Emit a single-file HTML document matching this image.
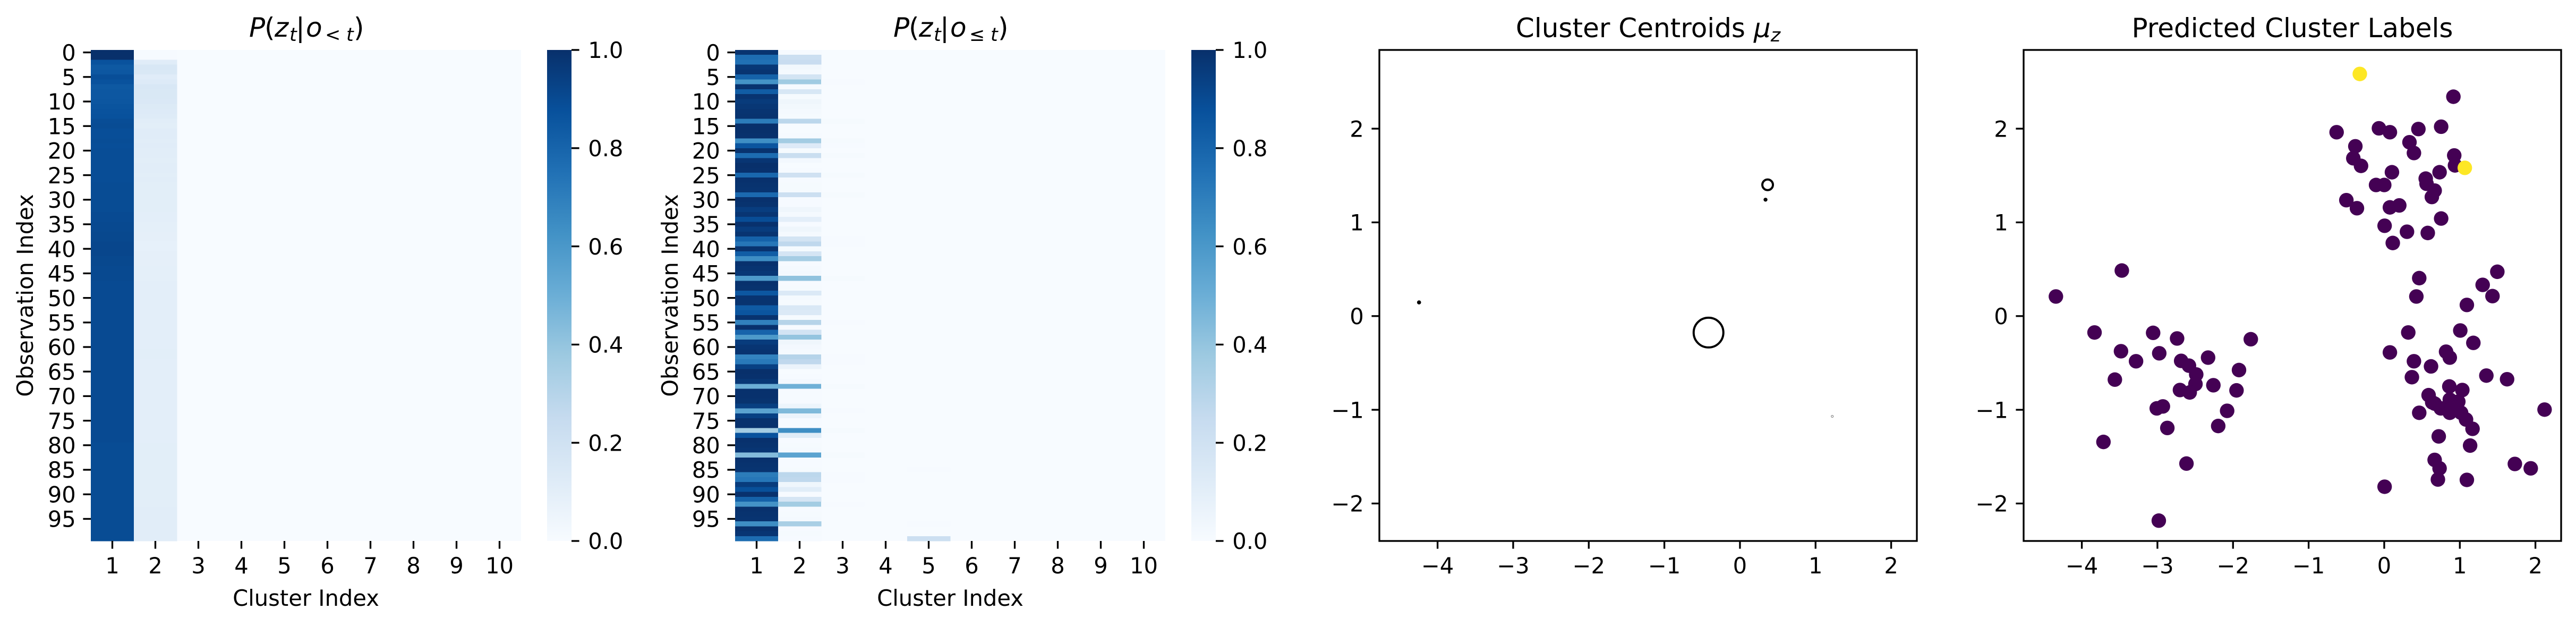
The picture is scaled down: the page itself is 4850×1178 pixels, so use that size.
<!DOCTYPE html>
<html lang="en">
<head>
<meta charset="utf-8">
<title>Cluster posterior heatmaps and scatter plots</title>
<style>
html,body{margin:0;padding:0;background:#fff;}
svg{display:block;}
text{font-family:"DejaVu Sans","Liberation Sans",sans-serif;fill:#000;}
.t{font-size:41.67px;}
.h{font-size:50px;}
.s{font-size:35px;}
.i{font-style:italic;}
</style>
</head>
<body>
<svg id="fig" xmlns="http://www.w3.org/2000/svg" width="4850" height="1178" viewBox="0 0 4850 1178">
  <defs>
    <linearGradient id="blues" x1="0" y1="1" x2="0" y2="0">
      <stop offset="0" stop-color="#f7fbff"/><stop offset="0.125" stop-color="#deebf7"/><stop offset="0.25" stop-color="#c6dbef"/>
      <stop offset="0.375" stop-color="#9ecae1"/><stop offset="0.5" stop-color="#6baed6"/><stop offset="0.625" stop-color="#4292c6"/>
      <stop offset="0.75" stop-color="#2171b5"/><stop offset="0.875" stop-color="#08519c"/><stop offset="1" stop-color="#08306b"/>
    </linearGradient>
  </defs>
  <rect x="0" y="0" width="4850" height="1178" fill="#fff"/>

  <g>
    <text class="h i" x="469" y="69">P</text><text class="h" x="498" y="69">(</text><text class="h i" x="517" y="69">z</text><text class="s i" x="545" y="77">t</text><text class="h" x="557" y="69">|</text><text class="h i" x="576" y="69">o</text><text class="s" x="612" y="77">&lt;</text><text class="s i" x="652" y="77">t</text><text class="h" x="666" y="69">)</text>
  </g>
  <g>
    <text class="h i" x="1682" y="69">P</text><text class="h" x="1711" y="69">(</text><text class="h i" x="1730" y="69">z</text><text class="s i" x="1758" y="77">t</text><text class="h" x="1770" y="69">|</text><text class="h i" x="1789" y="69">o</text><text class="s" x="1825" y="77">≤</text><text class="s i" x="1865" y="77">t</text><text class="h" x="1879" y="69">)</text>
  </g>
  <text class="h" x="3103" y="70" text-anchor="middle">Cluster Centroids <tspan class="i">μ</tspan><tspan class="s i" dy="8">z</tspan></text>
  <text class="h" x="4316" y="70" text-anchor="middle">Predicted Cluster Labels</text>

  <g id="root"></g>
</svg>

<script>
// ---------- Heatmap data: P(z_t | o_<t) ----------
const priorCluster1 = [1,1,.87,.845,.85,.885,.87,.845,.85,.85,.855,.865,.87,.875,.89,.895,.885,.885,.89,.885,
.89,.89,.89,.89,.89,.89,.89,.895,.895,.895,.895,.895,.895,.9,.9,.905,.905,.91,.91,.915,
.915,.915,.91,.91,.905,.905,.905,.9,.9,.9,.9,.9,.9,.9,.9,.9,.9,.9,.9,.9,
.9,.9,.9,.9,.9,.9,.9,.9,.9,.9,.9,.9,.9,.9,.9,.9,.9,.9,.9,.9,
.895,.895,.895,.895,.895,.895,.895,.895,.895,.895,.895,.895,.895,.895,.895,.895,.895,.895,.895,.895];
const priorCluster2 = [.005,.005,.115,.155,.15,.115,.13,.155,.15,.15,.145,.135,.13,.125,.11,.105,.115,.115,.11,.115,
.11,.11,.105,.11,.11,.105,.11,.105,.105,.105,.105,.105,.105,.1,.1,.095,.095,.09,.09,.085,
.085,.09,.09,.09,.095,.095,.095,.1,.1,.1,.1,.1,.1,.1,.1,.1,.1,.1,.1,.1,
.1,.105,.105,.1,.1,.1,.1,.1,.1,.1,.1,.1,.1,.1,.1,.1,.1,.1,.1,.1,
.105,.105,.105,.105,.105,.105,.105,.105,.105,.105,.105,.105,.105,.11,.11,.11,.11,.11,.11,.11];

// ---------- Heatmap data: P(z_t | o_<=t) ----------
const posteriorCluster1 = [.99,.77,.75,.97,.985,.81,.62,.99,.83,.985,.96,.975,.985,.99,.71,1,1,.995,.635,.86,
.99,.77,.98,1,.995,.79,.995,.99,.985,.78,.995,.99,.95,.98,.89,.995,.955,.985,.81,.73,
.99,.83,.64,.995,.985,.975,.59,.995,.99,.85,.985,.99,.84,.86,.99,.69,.995,.8,.59,.955,
.98,.99,.68,.72,.94,1,.995,.975,.5,.995,.995,.99,.945,.55,.94,.995,.995,.355,.87,.995,
.99,.98,.44,.995,.99,.985,.71,.73,.955,.88,.995,.81,.62,.995,.99,.985,.64,.995,.98,.77];
const posteriorCluster2 = [.005,.22,.24,.03,.015,.18,.37,.01,.16,.01,.04,.025,.015,.01,.28,0,0,.005,.36,.13,
.01,.23,.02,0,.005,.2,.005,.01,.01,.22,.005,.005,.04,.015,.1,.005,.04,.015,.18,.27,
.01,.17,.35,.005,.015,.02,.41,.005,.01,.14,.015,.01,.15,.14,.01,.3,.005,.19,.4,.04,
.02,.01,.3,.27,.06,0,.005,.02,.49,.005,.005,.005,.05,.45,.06,.005,.005,.64,.12,.005,
.01,.015,.55,.005,.005,.01,.28,.27,.04,.11,.005,.17,.36,.005,.01,.015,.34,.005,.01,.005];
const posteriorFaintRows = [6,14,18,19,21,25,29,38,39,46,55,62,63,68,73,77,82,85,86,87,92,96,99];
const posteriorFaintCols = [3,3,3,3,3,3,3,3,3,3,3,3,3,3,3,3,3,5,3,3,3,5,5];
const posteriorFaintValues = [.006,.008,.008,.005,.008,.008,.008,.006,.006,.008,.006,.006,.006,.008,.006,.008,.008,.006,.006,.006,.006,.005,.22];

const clusterLabels = [1,2,3,4,5,6,7,8,9,10];
const rowLabels = [0,5,10,15,20,25,30,35,40,45,50,55,60,65,70,75,80,85,90,95];
const colorbarTicks = [0,.2,.4,.6,.8,1];
const colorbarLabels = ["0.0","0.2","0.4","0.6","0.8","1.0"];

// ---------- Centroids ----------
const centroidX = [-.416,.366,.338,-4.245,1.221];
const centroidY = [-.176,1.401,1.242,.146,-1.070];
const centroidWeight = [.87,.111,.0032,.0038,.0044];
const centroidFaint = [0,0,0,0,1];

// ---------- Scatter ----------
const scatterX = [.915,-.630,-.070,.075,.452,.753,-.382,.334,.393,.926,-.409,-.307,.936,.102,.732,.549,.560,-.108,0,.667,.630,-.501,-.361,.075,.199,.753,.005,.301,.576,.113,
.463,1.496,1.302,1.432,.425,1.093,.318,1.006,1.179,.075,.818,.867,.393,.619,.366,1.351,1.625,.861,1.033,.587,.635,.667,.748,.867,.980,.893,.867,1.017,.936,1.082,.463,2.121,1.168,.721,1.136,.667,.732,.710,1.093,1.728,1.938,.005,
-4.343,-3.471,-3.832,-3.057,-2.740,-1.765,-3.482,-2.976,-3.283,-2.686,-2.583,-2.330,-2.487,-3.563,-1.921,-2.497,-2.260,-2.702,-2.573,-1.954,-2.928,-3.009,-2.078,-2.869,-2.196,-3.714,-2.616,-2.982,
-.323,1.066];
const scatterY = [2.341,1.962,2.004,1.962,1.996,2.021,1.812,1.855,1.740,1.714,1.684,1.603,1.608,1.535,1.535,1.467,1.412,1.399,1.399,1.339,1.271,1.237,1.151,1.160,1.181,1.041,.964,.900,.887,.780,
.405,.473,.333,.213,.209,.119,-.175,-.154,-.286,-.388,-.380,-.443,-.482,-.537,-.652,-.635,-.674,-.751,-.789,-.844,-.921,-.934,-.985,-.891,-.913,-.955,-1.032,-1.032,-.977,-1.104,-1.032,-.998,-1.203,-1.284,-1.382,-1.535,-1.625,-1.744,-1.748,-1.578,-1.625,-1.821,
.209,.486,-.175,-.179,-.239,-.247,-.375,-.397,-.482,-.478,-.529,-.443,-.623,-.678,-.576,-.725,-.738,-.789,-.815,-.793,-.964,-.985,-1.011,-1.194,-1.173,-1.343,-1.574,-2.183,
2.584,1.582];
const scatterLabel = [0,0,0,0,0,0,0,0,0,0,0,0,0,0,0,0,0,0,0,0,0,0,0,0,0,0,0,0,0,0,
0,0,0,0,0,0,0,0,0,0,0,0,0,0,0,0,0,0,0,0,0,0,0,0,0,0,0,0,0,0,0,0,0,0,0,0,0,0,0,0,0,0,
0,0,0,0,0,0,0,0,0,0,0,0,0,0,0,0,0,0,0,0,0,0,0,0,0,0,0,0,
1,1];
const xTicksNumeric = [-4,-3,-2,-1,0,1,2];
const yTicksNumeric = [-2,-1,0,1,2];

// ---------- Layout ----------
const TOP = 94, BOTTOM = 1018, TICK = 14.6, TW = 3.33, PAD = 14.6, XLABEL_BASE = 1079;
const NS = "http://www.w3.org/2000/svg";
const root = document.getElementById("root");

function make(tag, attrs, parent) {
  const e = document.createElementNS(NS, tag);
  for (const k in attrs) e.setAttribute(k, attrs[k]);
  (parent || root).appendChild(e);
  return e;
}
const bluesStops = [[247,251,255],[222,235,247],[198,219,239],[158,202,225],[107,174,214],[66,146,198],[33,113,181],[8,81,156],[8,48,107]];
function blues(v) {
  const t = Math.max(0, Math.min(1, v)) * 8;
  const i = Math.min(7, Math.floor(t));
  const f = t - i;
  const c = bluesStops[i].map(function (a, j) { return Math.round(a + (bluesStops[i + 1][j] - a) * f); });
  return "rgb(" + c.join(",") + ")";
}
function tickLine(parent, x1, y1, x2, y2) {
  const l = make("line", { x1: x1, y1: y1, x2: x2, y2: y2, stroke: "#000", "stroke-width": TW }, parent);
  
  
}
function tickText(parent, str, x, y, anchor) {
  const t = make("text", { x: x, y: y, "text-anchor": anchor, class: "t" }, parent);
  t.textContent = str;
  
  
}
function minus(v) { return v < 0 ? "\u2212" + Math.abs(v) : String(v); }

function drawHeatmap(name, left, right, cbLeft, cbRight, ylabelX, col1, col2, faintR, faintC, faintV) {
  const g = make("g", {});
  
  
  const nCols = clusterLabels.length, nRows = col1.length;
  const cw = (right - left) / nCols, rh = (BOTTOM - TOP) / nRows;
  const xPos = function (c) { return left + c * cw; };
  const yPos = function (r) { return TOP + r * rh; };

  const bg = make("rect", { x: left, y: TOP, width: right - left, height: BOTTOM - TOP, fill: blues(0) }, g);
  
  

  function cell(r, c, v) {
    const rc = make("rect", { x: xPos(c), y: yPos(r), width: cw + 0.4, height: rh + 0.4, fill: blues(v), "shape-rendering": "crispEdges" }, g);
    
    
  }
  for (let r = 0; r < nRows; r++) {
    cell(r, 0, col1[r]);
    cell(r, 1, col2[r]);
  }
  for (let k = 0; k < faintR.length; k++) cell(faintR[k], faintC[k] - 1, faintV[k]);

  clusterLabels.forEach(function (lab, c) {
    const x = xPos(c + 0.5);
    tickLine(g, x, BOTTOM, x, BOTTOM + TICK);
    tickText(g, String(lab), x, XLABEL_BASE, "middle");
  });
  rowLabels.forEach(function (lab) {
    const y = yPos(lab + 0.5);
    tickLine(g, left, y, left - TICK, y);
    tickText(g, String(lab), left - TICK - PAD + 1, y + 15.2, "end");
  });

  const xl = make("text", { x: (left + right) / 2, y: 1140, "text-anchor": "middle", class: "t" }, g);
  xl.textContent = "Cluster Index";
  
  
  const yl = make("text", { x: 0, y: 0, "text-anchor": "middle", class: "t", transform: "translate(" + ylabelX + "," + (TOP + BOTTOM) / 2 + ") rotate(-90)" }, g);
  yl.textContent = "Observation Index";
  
  

  const cb = make("rect", { x: cbLeft, y: TOP, width: cbRight - cbLeft, height: BOTTOM - TOP, fill: "url(#blues)" }, g);
  
  
  colorbarTicks.forEach(function (v, i) {
    const y = BOTTOM - v * (BOTTOM - TOP);
    tickLine(g, cbRight, y, cbRight + TICK, y);
    tickText(g, colorbarLabels[i], cbRight + TICK + PAD + 2, y + 15.2, "start");
  });
}

const XMIN = -4.77, XMAX = 2.34, YMIN = -2.40, YMAX = 2.84;
function drawAxes(name, left, right, painter) {
  const g = make("g", {});
  
  
  const sx = function (v) { return left + (v - XMIN) / (XMAX - XMIN) * (right - left); };
  const sy = function (v) { return BOTTOM - (v - YMIN) / (YMAX - YMIN) * (BOTTOM - TOP); };
  painter(g, sx, sy);
  const frame = make("rect", { x: left, y: TOP, width: right - left, height: BOTTOM - TOP, fill: "none", stroke: "#000", "stroke-width": TW }, g);
  
  
  xTicksNumeric.forEach(function (v) {
    tickLine(g, sx(v), BOTTOM, sx(v), BOTTOM + TICK);
    tickText(g, minus(v), sx(v), XLABEL_BASE, "middle");
  });
  yTicksNumeric.forEach(function (v) {
    tickLine(g, left, sy(v), left - TICK, sy(v));
    tickText(g, minus(v), left - TICK - PAD, sy(v) + 15.2, "end");
  });
}

drawHeatmap("heatmap-prior", 171, 981, 1030, 1076, 62, priorCluster1, priorCluster2, [], [], []);
drawHeatmap("heatmap-posterior", 1384, 2194, 2243, 2289, 1276, posteriorCluster1, posteriorCluster2, posteriorFaintRows, posteriorFaintCols, posteriorFaintValues);

drawAxes("centroids-plot", 2597, 3609, function (g, sx, sy) {
  centroidX.forEach(function (x, i) {
    const r = 30 * Math.sqrt(centroidWeight[i]);
    const faint = centroidFaint[i] === 1;
    const c = make("circle", { cx: sx(x), cy: sy(centroidY[i]), r: r, fill: "none", stroke: faint ? "#8a8a8a" : "#000", "stroke-width": faint ? 1.2 : 4 }, g);
    
    
  });
});

drawAxes("labels-plot", 3810, 4822, function (g, sx, sy) {
  scatterX.forEach(function (x, i) {
    const c = make("circle", { cx: sx(x), cy: sy(scatterY[i]), r: 13.7, fill: scatterLabel[i] ? "#fde725" : "#440154" }, g);
    
    
  });
});
</script>
</body>
</html>
